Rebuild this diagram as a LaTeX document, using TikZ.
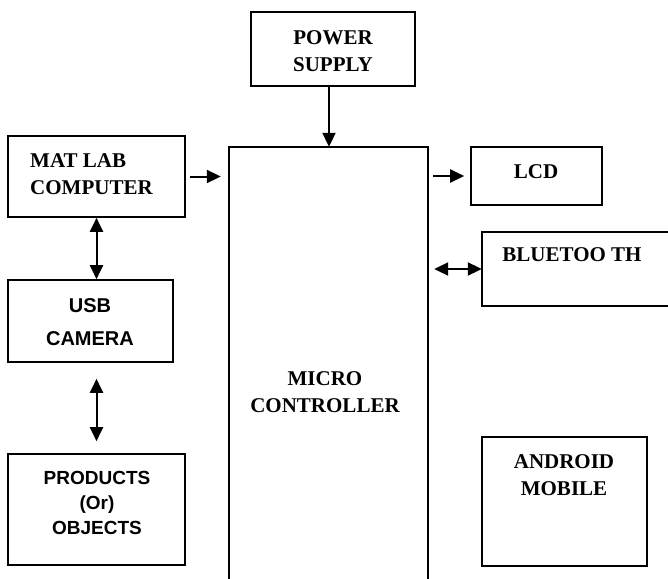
\documentclass[tikz,border=0pt]{standalone}
\usepackage{fontspec}
\setmainfont{Liberation Serif}
\newfontfamily\arialfont{Liberation Sans}
\usetikzlibrary{arrows.meta, positioning}
\tikzset{>={Triangle[length=14pt,width=13pt]}}

\begin{document}
\begin{tikzpicture}[x=1pt, y=-1pt,
  blockbox/.style={draw, line width=1.6pt, inner sep=0pt},
  sertext/.style={font=\bfseries\fontsize{21}{27}\selectfont, align=center, inner sep=0pt},
  santext/.style={font=\arialfont\bfseries\fontsize{20}{33}\selectfont, align=center, inner sep=0pt},
  link/.style={line width=2pt}]

\useasboundingbox (0,0) rectangle (668,578);

% blocks
\node[blockbox, minimum width=164pt, minimum height=74pt] (power) at (333,49) {};
\node[blockbox, minimum width=177pt, minimum height=81pt] (matlab) at (96.5,176.5) {};
\node[blockbox, minimum width=165pt, minimum height=82pt] (usb) at (90.5,321) {};
\node[blockbox, minimum width=177pt, minimum height=111pt] (products) at (96.5,509.5) {};
\node[blockbox, minimum width=131pt, minimum height=58pt] (lcd) at (536.5,176) {};
\node[blockbox, minimum width=165pt, minimum height=129pt] (android) at (564.5,501.5) {};
\node[minimum width=199pt, minimum height=443pt, inner sep=0pt] (mc) at (328.5,368.5) {};
\node[minimum width=198pt, minimum height=74pt, inner sep=0pt] (bt) at (581,269) {};
\draw[line width=1.6pt] (mc.south west) |- (mc.north east) -- (mc.south east);
\draw[line width=1.6pt] (bt.north east) -| (bt.south west) -- (bt.south east);

% texts
\node[sertext] (powertxt) at (333,51) {POWER\\SUPPLY};
\node[sertext, align=left, anchor=west] (matlabtxt) at (30,174) {MAT LAB\\COMPUTER};
\node[santext] (usbtxt) at (90,322) {USB\\CAMERA};
\node[santext, font=\arialfont\bfseries\fontsize{19}{25}\selectfont] (productstxt) at (97,503) {PRODUCTS\\(Or)\\OBJECTS};
\node[sertext] (lcdtxt) at (536,172) {LCD};
\node[sertext] (bttxt) at (572,255) {BLUETOO TH};
\node[sertext] (androidtxt) at (564,475) {ANDROID\\MOBILE};
\node[sertext] (mctxt) at (325,392) {MICRO\\CONTROLLER};

% connectors
\draw[link, ->] ([xshift=-4pt]power.south) -- ([xshift=-4pt]power.south |- mc.north);
\draw[link, ->, shorten <=4pt, shorten >=8pt] (matlab.east) -- (matlab.east -| mc.west);
\draw[link, ->, shorten <=5pt, shorten >=6pt] (lcd.west -| mc.east) -- (lcd.west);
\draw[link, <->, shorten <=6pt] (bt.west -| mc.east) -- (bt.west);
\draw[link, <->] (matlab.south) -- (matlab.south |- usb.north);
\draw[link, <->, shorten <=16pt, shorten >=12pt] (products.north |- usb.south) -- (products.north);
\end{tikzpicture}
\end{document}
